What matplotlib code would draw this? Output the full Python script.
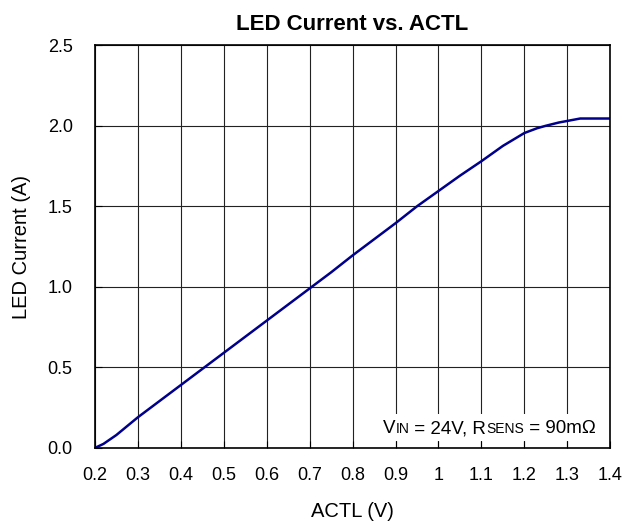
import numpy as np
import matplotlib
matplotlib.use('Agg')
import matplotlib.pyplot as plt
from matplotlib.patches import Rectangle

plt.rcParams['font.family'] = ['Liberation Sans', 'DejaVu Sans']

actl = [0.2, 0.22, 0.25, 0.3, 0.35, 0.4, 0.45, 0.5, 0.55, 0.6, 0.65, 0.7, 0.75,
        0.8, 0.85, 0.9, 0.95, 1.0, 1.05, 1.1, 1.15, 1.2, 1.23, 1.25, 1.28,
        1.3, 1.33, 1.36, 1.4]
current = [0.0, 0.025, 0.08, 0.19, 0.29, 0.39, 0.49, 0.59, 0.69, 0.79, 0.89,
           0.99, 1.09, 1.195, 1.295, 1.395, 1.50, 1.595, 1.69, 1.78, 1.875,
           1.955, 1.985, 2.0, 2.02, 2.03, 2.045, 2.045, 2.045]

fig = plt.figure(figsize=(6.24, 5.32), dpi=100)
ax = fig.add_axes([0.152, 0.158, 0.826, 0.757])

ax.plot(actl, current, color='#00008B', lw=1.8)
ax.set_xlim(0.2, 1.4)
ax.set_ylim(0, 2.5)
ax.set_xticks(np.arange(0.2, 1.41, 0.1))
ax.set_xticklabels(['0.2', '0.3', '0.4', '0.5', '0.6', '0.7', '0.8', '0.9',
                    '1', '1.1', '1.2', '1.3', '1.4'])
ax.set_yticks(np.arange(0, 2.51, 0.5))
ax.set_yticklabels(['0.0', '0.5', '1.0', '1.5', '2.0', '2.5'])
ax.grid(True, color='#222222', lw=0.8)
ax.tick_params(direction='in', labelsize=13, length=5)
ax.tick_params(axis='x', pad=14)
ax.tick_params(axis='y', pad=16)
for s in ax.spines.values():
    s.set_linewidth(1.2)

ax.set_xlabel('ACTL (V)', fontsize=14.5, labelpad=13)
ax.set_ylabel('LED Current (A)', fontsize=14.5, labelpad=12)
ax.set_title('LED Current vs. ACTL', fontsize=16, fontweight='bold', pad=11)

# condition note: white patch hides the grid, small-caps style subscripts
ax.add_patch(Rectangle((0.553, 0.017), 0.437, 0.068, transform=ax.transAxes,
                       facecolor='white', edgecolor='none', zorder=3))
pieces = [('V', 13.5), ('IN', 10), (' = 24V, R', 13.5), ('SENS', 10),
          (' = 90m\u03a9', 13.5)]
prev = ax.text(0.559, 0.037, pieces[0][0], transform=ax.transAxes,
               fontsize=pieces[0][1], va='baseline', ha='left', zorder=4)
for s, fs in pieces[1:]:
    prev = ax.annotate(s, xy=(1, 0.037), xycoords=(prev, ax.transAxes),
                       fontsize=fs, va='baseline', ha='left', zorder=4)

fig.savefig('out.png', dpi=100)
